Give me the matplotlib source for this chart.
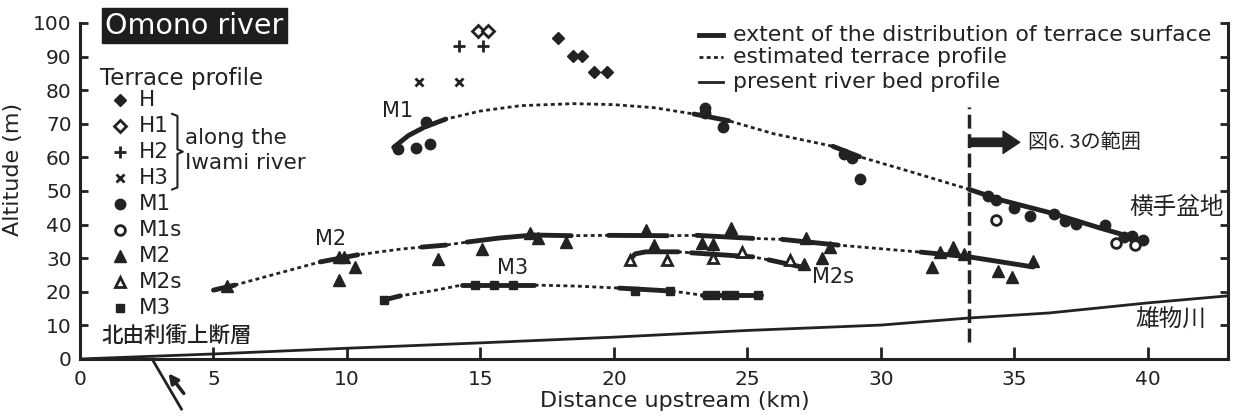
import numpy as np
import matplotlib.pyplot as plt

# terrace points (distance km, altitude m)
H_x = [17.9, 18.45, 18.8, 19.25, 19.75]
H_y = [95.5, 90.3, 90.3, 85.5, 85.5]
H1_x = [14.9, 15.3]
H1_y = [97.5, 97.5]
H2_x = [14.2, 15.1]
H2_y = [93.3, 93.3]
H3_x = [12.7, 14.2]
H3_y = [82.3, 82.3]

M1_x = [11.9, 12.6, 13.1, 12.95, 23.4, 23.4, 24.1, 28.6, 28.9, 29.2, 34.0, 34.3,
        35.0, 35.6, 36.5, 36.9, 37.3, 38.4, 39.1, 39.4, 39.8]
M1_y = [62.5, 62.9, 64.0, 70.5, 74.8, 73.3, 69.0, 61.0, 59.8, 53.5, 48.6, 47.2,
        44.8, 42.5, 43.2, 41.0, 40.3, 40.0, 36.4, 36.6, 35.3]
M1s_x = [34.3, 38.8, 39.5]
M1s_y = [41.5, 34.6, 33.8]

M2_x = [5.5, 9.7, 9.9, 10.3, 9.7, 13.4, 15.05, 16.85, 17.15, 18.2, 21.2, 21.5,
        23.3, 23.7, 24.4, 27.2, 28.1, 27.8, 27.1, 31.9, 32.2, 32.7, 33.1, 34.4,
        34.9, 35.7]
M2_y = [21.8, 30.5, 30.5, 27.4, 23.5, 29.8, 32.8, 37.5, 36.0, 34.8, 38.4, 34.0,
        34.5, 34.2, 39.0, 36.0, 33.3, 30.2, 28.2, 27.4, 31.8, 33.2, 31.3, 26.3,
        24.5, 29.2]
M2s_x = [20.6, 22.0, 23.7, 24.8, 26.6]
M2s_y = [29.5, 29.5, 30.0, 31.8, 29.5]
M3_x = [11.4, 14.8, 15.5, 16.2, 20.8, 22.1, 23.5, 23.8, 24.2, 24.5, 25.4]
M3_y = [17.6, 22.0, 22.0, 22.0, 20.3, 20.3, 19.0, 19.0, 19.0, 19.0, 19.0]

# estimated terrace profiles, with index ranges of the surveyed (solid) parts
M1_prof_x = [11.75, 12.3, 12.9, 13.7, 15.0, 16.5, 18.5, 20.0, 21.5, 23.0, 23.6,
             24.3, 26.0, 28.2, 29.2, 31.0, 33.3, 34.5, 36.4, 38.2, 39.8]
M1_prof_y = [63.0, 66.5, 69.0, 71.4, 73.8, 75.4, 76.0, 75.7, 74.8, 72.9, 72.0,
             70.9, 67.0, 63.3, 60.2, 56.0, 50.5, 47.3, 43.4, 39.0, 35.3]
M1_solid = [(0, 3), (9, 11), (13, 14), (16, 20)]

M2_prof_x = [5.0, 5.8, 9.0, 10.4, 12.0, 12.8, 13.7, 14.5, 15.7, 17.0, 18.4, 19.8,
             22.0, 23.1, 25.2, 26.3, 28.4, 31.5, 33.3, 35.7]
M2_prof_y = [20.5, 22.0, 28.9, 31.0, 32.7, 33.3, 33.9, 34.8, 36.0, 36.9, 36.7, 36.8,
             36.7, 36.8, 35.9, 35.6, 33.9, 31.8, 30.4, 27.4]
M2_solid = [(0, 1), (2, 3), (5, 6), (7, 10), (11, 12), (13, 14), (15, 16), (17, 19)]

M2s_prof_x = [20.6, 20.8, 21.2, 22.4, 22.9, 25.2, 25.8, 27.2]
M2s_prof_y = [29.6, 31.3, 31.9, 31.9, 31.6, 30.4, 29.5, 27.1]
M2s_solid = [(0, 3), (4, 5), (6, 7)]

M3_prof_x = [11.4, 12.0, 13.2, 14.3, 17.0, 18.6, 20.2, 22.2, 23.3, 25.5]
M3_prof_y = [17.6, 18.8, 20.3, 22.0, 22.0, 21.7, 21.1, 20.2, 19.0, 19.0]
M3_solid = [(0, 1), (3, 4), (6, 7), (8, 9)]

# present river bed
river_x = [0, 5, 10, 15, 20, 25, 30, 33.3, 36.3, 40, 43]
river_y = [0, 1.5, 3.2, 4.8, 6.5, 8.5, 10.1, 12.2, 13.7, 16.7, 18.8]

fig_boundary_x = 33.3  # limit of Fig 6.3

c = '#222222'
plt.rcParams['font.family'] = ['DejaVu Sans', 'Noto Sans CJK JP']
jp = ['Noto Sans CJK JP', 'DejaVu Sans']

fig = plt.figure(figsize=(12.35, 4.17), dpi=100)
ax = fig.add_axes([80 / 1235, 58 / 417, 1148 / 1235, 336 / 417])

# profiles
for px, py, solid in [(M1_prof_x, M1_prof_y, M1_solid),
                      (M2_prof_x, M2_prof_y, M2_solid),
                      (M2s_prof_x, M2s_prof_y, M2s_solid),
                      (M3_prof_x, M3_prof_y, M3_solid)]:
    ax.plot(px, py, color=c, lw=2, ls=(0, (1.4, 1.2)))
    for i0, i1 in solid:
        ax.plot(px[i0:i1 + 1], py[i0:i1 + 1], color=c, lw=3.5, solid_capstyle='round')

ax.plot(river_x, river_y, color=c, lw=2)

# points
ax.plot(H_x, H_y, 'D', color=c, ms=6.5, ls='none')
ax.plot(H1_x, H1_y, 'D', mfc='white', mec=c, mew=2, ms=6.5, ls='none')
ax.plot(H2_x, H2_y, '+', color=c, mew=2, ms=9, ls='none')
ax.plot(H3_x, H3_y, 'x', color=c, mew=2, ms=6, ls='none')
ax.plot(M1_x, M1_y, 'o', color=c, ms=7.5, ls='none')
ax.plot(M1s_x, M1s_y, 'o', mfc='white', mec=c, mew=2, ms=7, ls='none')
ax.plot(M2_x, M2_y, '^', color=c, ms=8, ls='none')
ax.plot(M2s_x, M2s_y, '^', mfc='white', mec=c, mew=2, ms=7.5, ls='none')
ax.plot(M3_x, M3_y, 's', color=c, ms=5.5, ls='none')

# boundary of Fig 6.3
ax.plot([fig_boundary_x, fig_boundary_x], [5, 75], color=c, lw=2.5, ls=(0, (4, 1.6)))
ax.annotate('', xy=(35.2, 64.5), xytext=(fig_boundary_x, 64.5),
            arrowprops=dict(facecolor=c, edgecolor=c, width=6, headwidth=16, headlength=12, shrink=0))
ax.text(35.5, 64.5, '図6. 3の範囲', fontsize=14.5, family=jp, va='center', color=c)

# labels on the profiles
ax.text(11.9, 73.8, 'M1', fontsize=15, ha='center', va='center', color=c)
ax.text(9.4, 35.7, 'M2', fontsize=15, ha='center', va='center', color=c)
ax.text(16.2, 27.2, 'M3', fontsize=15, ha='center', va='center', color=c)
ax.text(27.4, 24.5, 'M2s', fontsize=15, ha='left', va='center', color=c)
ax.text(42.85, 45.2, '横手盆地', fontsize=17, family=jp, ha='right', va='center', color=c)
ax.text(42.2, 11.6, '雄物川', fontsize=17, family=jp, ha='right', va='center', color=c)
ax.text(0.8, 7.0, '北由利衝上断層', fontsize=15.5, family=jp, ha='left', va='center',
        color=c, weight='medium')

# fault trace below the axis
ax.plot([2.7, 3.8], [0, -14.9], color=c, lw=2, clip_on=False)
ax.annotate('', xy=(3.25, -3.6), xytext=(3.95, -10.9), annotation_clip=False,
            arrowprops=dict(arrowstyle='-|>', color=c, lw=2.5, mutation_scale=14))

# title box
ax.text(0.95, 99.2, 'Omono river', fontsize=20.5, color='white', ha='left', va='center',
        bbox=dict(boxstyle='square,pad=0.12', fc='#1e1e1e', ec='#1e1e1e'), clip_on=False)

# left legend
ax.text(0.75, 83.6, 'Terrace profile', fontsize=16.5, va='center', color=c)
leg_names = ['H', 'H1', 'H2', 'H3', 'M1', 'M1s', 'M2', 'M2s', 'M3']
leg_style = [dict(marker='D', color=c, ms=6.5),
             dict(marker='D', mfc='white', mec=c, mew=2, ms=6.5),
             dict(marker='+', color=c, mew=2, ms=9),
             dict(marker='x', color=c, mew=2, ms=6),
             dict(marker='o', color=c, ms=7.5),
             dict(marker='o', mfc='white', mec=c, mew=2, ms=7),
             dict(marker='^', color=c, ms=8),
             dict(marker='^', mfc='white', mec=c, mew=2, ms=7.5),
             dict(marker='s', color=c, ms=5.5)]
leg_y = 77.2 - 7.75 * np.arange(len(leg_names))
for name, st, yy in zip(leg_names, leg_style, leg_y):
    ax.plot([1.5], [yy], ls='none', **st)
    ax.text(2.2, yy, name, fontsize=15.5, va='center', color=c)
yb0, yb1 = leg_y[1] + 3.5, leg_y[3] - 3.5
ym = (yb0 + yb1) / 2
ax.plot([3.45, 3.65, 3.65, 3.85, 3.65, 3.65, 3.45],
        [yb0, yb0 - 0.6, ym + 0.7, ym, ym - 0.7, yb1 + 0.6, yb1], color=c, lw=1.5)
ax.text(3.95, 65.8, 'along the', fontsize=15.5, va='center', color=c)
ax.text(3.95, 58.3, 'Iwami river', fontsize=15.5, va='center', color=c)

# right legend
ax.plot([23.2, 24.1], [96.4, 96.4], color=c, lw=3.5)
ax.plot([23.2, 24.1], [89.9, 89.9], color=c, lw=2, ls=(0, (1.4, 1.2)))
ax.plot([23.2, 24.1], [82.4, 82.4], color=c, lw=2)
ax.text(24.45, 96.4, 'extent of the distribution of terrace surface', fontsize=15.8,
        va='center', color=c)
ax.text(24.45, 89.9, 'estimated terrace profile', fontsize=15.8, va='center', color=c)
ax.text(24.45, 82.4, 'present river bed profile', fontsize=15.8, va='center', color=c)

# axes
ax.set_xlim(0, 43)
ax.set_ylim(0, 100)
ax.set_xticks(np.arange(0, 41, 5))
ax.set_yticks(np.arange(0, 101, 10))
ax.spines['top'].set_visible(False)
for s in ['left', 'right', 'bottom']:
    ax.spines[s].set_linewidth(2.2)
    ax.spines[s].set_color(c)
ax.tick_params(axis='x', direction='in', length=9, width=2, pad=8, labelsize=14.5, colors=c)
ax.tick_params(axis='y', direction='in', length=5.5, width=2, pad=6, labelsize=14.5,
               colors=c, right=True)
ax.set_xlabel('Distance upstream (km)', fontsize=16, color=c)
ax.set_ylabel('Altitude (m)', fontsize=16, color=c)
ax.xaxis.set_label_coords(0.518, -0.094)
ax.xaxis.label.set_va('top')
ax.yaxis.set_label_coords(-0.05, 0.565)

fig.savefig('out.png', dpi=100)
